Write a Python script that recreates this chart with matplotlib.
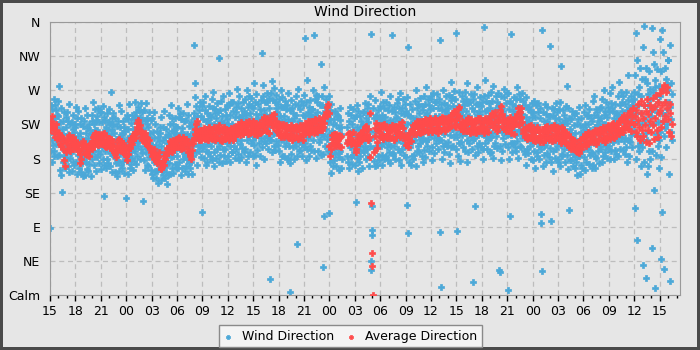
import numpy as np
import pandas as pd
import matplotlib.pyplot as plt
import matplotlib.dates as mdates

# Readings start at 15:00; one row per hour, degrees (0 = calm)
start = "2024-05-10 15:00"
wind_step = "150s"   # 24 readings per hour
avg_step = "5min"    # 12 averages per hour

wind_dir = [
    215, 88, 190, 232, 250, 205, 176, 245, 220, 198, 258, 183, 190, 233, 212, 251, 199, 226, 244, 183, 221, 238, 206, 256,
    236, 276, 185, 210, 165, 228, 197, 247, 158, 219, 136, 204, 212, 176, 230, 191, 241, 184, 205, 168, 222, 197, 235, 180,
    188, 241, 170, 213, 230, 195, 162, 252, 207, 181, 226, 199, 187, 228, 164, 210, 219, 176, 237, 194, 215, 171, 225, 203,
    222, 175, 248, 196, 160, 233, 185, 210, 243, 168, 201, 190, 226, 184, 214, 162, 201, 234, 174, 206, 191, 223, 178, 157,
    182, 230, 158, 205, 247, 176, 214, 193, 238, 166, 220, 199, 164, 207, 186, 225, 173, 200, 218, 157, 195, 212, 180, 230,
    238, 190, 254, 212, 172, 226, 201, 245, 184, 217, 163, 231, 218, 182, 236, 197, 247, 190, 211, 174, 228, 203, 241, 186,
    211, 166, 242, 195, 228, 180, 249, 204, 171, 235, 131, 218, 190, 231, 167, 213, 222, 179, 240, 197, 218, 174, 228, 206,
    245, 187, 226, 170, 212, 268, 197, 233, 162, 219, 185, 240, 226, 184, 214, 162, 201, 234, 174, 206, 191, 223, 178, 157,
    193, 229, 175, 250, 208, 164, 221, 186, 243, 200, 171, 214, 168, 211, 190, 229, 177, 204, 222, 161, 199, 216, 184, 234,
    128, 205, 238, 177, 219, 159, 232, 196, 252, 183, 210, 168, 209, 173, 227, 188, 238, 181, 202, 165, 219, 194, 232, 177,
    236, 190, 255, 214, 173, 241, 202, 229, 184, 248, 197, 220, 203, 244, 180, 226, 235, 192, 253, 210, 231, 187, 241, 219,
    124, 215, 178, 244, 196, 231, 165, 209, 253, 188, 226, 172, 234, 192, 222, 170, 209, 242, 182, 214, 199, 231, 186, 165,
    198, 160, 233, 182, 215, 155, 241, 175, 207, 164, 226, 190, 155, 198, 177, 216, 164, 191, 209, 148, 186, 203, 171, 221,
    170, 214, 152, 196, 235, 163, 187, 222, 158, 205, 178, 243, 190, 154, 208, 169, 219, 162, 183, 146, 200, 175, 213, 158,
    210, 174, 238, 192, 160, 226, 201, 250, 182, 216, 167, 233, 184, 225, 161, 207, 216, 173, 234, 191, 212, 168, 222, 200,
    221, 183, 247, 199, 168, 235, 206, 176, 240, 193, 214, 158, 232, 190, 220, 168, 207, 240, 180, 212, 197, 229, 184, 163,
    186, 231, 170, 213, 252, 179, 204, 160, 238, 195, 223, 174, 167, 210, 189, 228, 176, 203, 221, 160, 198, 215, 183, 233,
    240, 330, 280, 261, 208, 226, 188, 249, 171, 217, 236, 196, 226, 190, 244, 205, 255, 198, 219, 182, 236, 211, 249, 194,
    110, 232, 197, 255, 216, 181, 244, 206, 262, 190, 229, 172, 199, 240, 176, 222, 231, 188, 249, 206, 227, 183, 237, 215,
    235, 196, 258, 214, 178, 247, 205, 268, 188, 226, 170, 240, 245, 203, 233, 181, 220, 253, 193, 225, 210, 242, 197, 176,
    313, 201, 244, 185, 229, 256, 208, 174, 236, 219, 262, 193, 184, 227, 206, 245, 193, 220, 238, 177, 215, 232, 200, 250,
    226, 183, 250, 211, 267, 197, 238, 176, 221, 254, 204, 188, 225, 189, 243, 204, 254, 197, 218, 181, 235, 210, 248, 193,
    241, 205, 272, 222, 186, 253, 214, 235, 178, 262, 199, 230, 205, 246, 182, 228, 237, 194, 255, 212, 233, 189, 243, 221,
    215, 258, 192, 237, 176, 270, 224, 204, 248, 183, 231, 263, 252, 210, 240, 188, 227, 260, 200, 232, 217, 249, 204, 183,
    246, 198, 279, 221, 185, 254, 208, 239, 172, 265, 214, 232, 191, 234, 213, 252, 200, 227, 245, 184, 222, 239, 207, 257,
    319, 231, 195, 262, 217, 277, 203, 244, 180, 254, 226, 210, 237, 201, 255, 216, 266, 209, 230, 193, 247, 222, 260, 205,
    21, 238, 266, 205, 282, 224, 189, 257, 233, 212, 273, 196, 214, 255, 191, 237, 246, 203, 264, 221, 242, 198, 252, 230,
    224, 190, 259, 212, 236, 175, 270, 205, 248, 184, 229, 261, 248, 206, 236, 184, 223, 256, 196, 228, 213, 245, 200, 179,
    207, 251, 181, 232, 266, 196, 219, 4, 244, 174, 213, 257, 186, 229, 208, 247, 195, 222, 240, 179, 217, 234, 202, 252,
    238, 196, 262, 67, 218, 183, 250, 209, 272, 190, 230, 203, 227, 191, 245, 206, 256, 199, 220, 183, 237, 212, 250, 195,
    219, 264, 200, 339, 236, 178, 255, 212, 283, 193, 242, 225, 207, 248, 184, 230, 239, 196, 257, 214, 235, 191, 245, 223,
    245, 205, 270, 228, 343, 190, 258, 215, 237, 181, 264, 222, 254, 212, 242, 190, 229, 262, 202, 234, 219, 251, 206, 185,
    230, 305, 262, 212, 251, 186, 37, 240, 275, 210, 104, 248, 197, 240, 219, 258, 206, 233, 251, 190, 228, 245, 213, 263,
    108, 175, 232, 198, 252, 161, 216, 187, 241, 170, 209, 225, 214, 178, 232, 193, 243, 186, 207, 170, 224, 199, 237, 182,
    199, 236, 165, 220, 187, 246, 190, 231, 167, 213, 222, 179, None, None, None, None, None, None, None, None, None, None, None, None,
    None, None, 184, 221, 240, 175, 203, 229, 168, 214, 195, 248, 182, 237, 195, 225, 173, 212, 245, 185, 217, 202, 234, 189,
    213, 172, 236, 123, 197, 250, 181, 222, 164, 207, 243, 190, 175, 218, 197, 236, 184, 211, 229, 168, 206, 223, 191, 241,
    224, 188, 242, 203, 253, 196, 217, 180, 234, 209, 247, 192, 228, 184, 252, 205, 170, 239, 196, 216, 262, 344, 45, 33,
    118, 86, 79, 208, 246, 177, 233, 194, 257, 215, 170, 238, 194, 235, 171, 217, 226, 183, 244, 201, 222, 178, 232, 210,
    249, 196, 224, 268, 185, 237, 172, 213, 255, 201, 229, 180, 247, 205, 235, 183, 222, 255, 195, 227, 212, 244, 199, 178,
    206, 251, 188, 231, 174, 262, 219, 197, 243, 343, 227, 185, 187, 230, 209, 248, 196, 223, 241, 180, 218, 235, 203, 253,
    233, 192, 258, 215, 178, 247, 204, 266, 189, 229, 172, 240, 229, 193, 247, 208, 258, 201, 222, 185, 239, 214, 252, 197,
    198, 243, 182, 225, 261, 119, 82, 327, 237, 176, 209, 252, 195, 236, 172, 218, 227, 184, 245, 202, 223, 179, 233, 211,
    221, 185, 256, 204, 234, 170, 271, 213, 190, 247, 228, 196, 252, 210, 240, 188, 227, 260, 200, 232, 217, 249, 204, 183,
    244, 207, 176, 263, 225, 191, 252, 216, 182, 238, 275, 203, 197, 240, 219, 258, 206, 233, 251, 190, 228, 245, 213, 263,
    212, 258, 195, 231, 178, 266, 220, 246, 187, 207, 254, 235, 236, 200, 254, 215, 265, 208, 229, 192, 246, 221, 259, 204,
    236, 336, 83, 11, 252, 205, 180, 244, 218, 270, 197, 229, 212, 253, 189, 235, 244, 201, 262, 219, 240, 196, 250, 228,
    202, 247, 186, 227, 264, 211, 174, 238, 257, 195, 281, 219, 261, 219, 249, 197, 236, 269, 209, 241, 226, 258, 213, 192,
    345, 232, 84, 209, 249, 183, 226, 268, 200, 241, 177, 216, 202, 245, 224, 263, 211, 238, 256, 195, 233, 250, 218, 268,
    226, 190, 259, 214, 243, 176, 280, 204, 235, 188, 253, 221, 236, 200, 254, 215, 265, 208, 229, 192, 246, 221, 259, 204,
    17, 243, 207, 265, 117, 228, 185, 252, 217, 196, 274, 238, 211, 252, 188, 234, 243, 200, 261, 218, 239, 195, 249, 227,
    213, 255, 193, 231, 179, 262, 222, 353, 243, 200, 284, 209, 256, 214, 244, 192, 231, 264, 204, 236, 221, 253, 208, 187,
    247, 208, 268, 189, 232, 256, 214, 181, 240, 276, 196, 225, 201, 244, 223, 262, 210, 237, 255, 194, 232, 249, 217, 267,
    220, 33, 251, 197, 30, 237, 178, 263, 215, 246, 190, 229, 243, 207, 261, 222, 272, 215, 236, 199, 253, 228, 266, 211,
    234, 195, 7, 266, 212, 245, 180, 104, 227, 256, 344, 201, 211, 252, 188, 234, 243, 200, 261, 218, 239, 195, 249, 227,
    211, 258, 190, 236, 274, 203, 226, 181, 248, 216, 265, 197, 259, 217, 247, 195, 234, 267, 207, 239, 224, 256, 211, 190,
    225, 186, 250, 212, 235, 172, 261, 204, 228, 193, 245, 219, 187, 230, 209, 248, 196, 223, 241, 180, 218, 235, 203, 253,
    200, 241, 178, 224, 256, 190, 215, 168, 235, 207, 250, 184, 224, 188, 242, 203, 253, 196, 217, 180, 234, 209, 247, 192,
    107, 95, 32, 350, 218, 170, 242, 196, 229, 185, 252, 210, 198, 239, 175, 221, 230, 187, 248, 205, 226, 182, 236, 214,
    194, 236, 328, 98, 212, 176, 247, 203, 224, 163, 238, 190, 245, 203, 233, 181, 220, 253, 193, 225, 210, 242, 197, 176,
    219, 180, 245, 206, 232, 170, 254, 198, 226, 302, 213, 186, 183, 226, 205, 244, 192, 219, 237, 176, 214, 231, 199, 249,
    185, 227, 276, 166, 211, 246, 192, 112, 234, 178, 219, 203, 214, 178, 232, 193, 243, 186, 207, 170, 224, 199, 237, 182,
    168, 214, 190, 240, 175, 226, 158, 203, 232, 184, 248, 197, 183, 224, 160, 206, 215, 172, 233, 190, 211, 167, 221, 199,
    206, 242, 182, 225, 165, 251, 199, 218, 176, 236, 192, 212, 237, 195, 225, 173, 212, 245, 185, 217, 202, 234, 189, 168,
    229, 187, 256, 210, 172, 238, 201, 263, 184, 222, 168, 245, 181, 224, 203, 242, 190, 217, 235, 174, 212, 229, 197, 247,
    214, 248, 192, 233, 176, 259, 207, 226, 183, 270, 200, 238, 225, 189, 243, 204, 254, 197, 218, 181, 235, 210, 248, 193,
    196, 241, 267, 210, 180, 253, 221, 190, 246, 215, 274, 203, 202, 243, 179, 225, 234, 191, 252, 209, 230, 186, 240, 218,
    238, 203, 262, 184, 229, 281, 213, 250, 192, 235, 268, 207, 255, 213, 243, 191, 230, 263, 203, 235, 220, 252, 207, 186,
    222, 268, 195, 244, 176, 257, 230, 290, 205, 248, 183, 236, 202, 245, 224, 263, 211, 238, 256, 195, 233, 250, 218, 268,
    258, 115, 290, 212, 345, 240, 180, 310, 228, 72, 265, 196, 250, 190, 275, 210, 300, 200, 240, 170, 262, 225, 285, 195,
    327, 205, 40, 250, 175, 355, 232, 285, 22, 300, 214, 160, 205, 280, 170, 250, 265, 190, 295, 225, 258, 180, 272, 236,
    243, 352, 190, 62, 268, 320, 226, 138, 305, 248, 9, 274, 283, 212, 262, 185, 242, 298, 196, 255, 228, 276, 205, 168,
    215, 338, 262, 47, 295, 182, 350, 240, 110, 320, 230, 35, 210, 272, 238, 300, 220, 255, 285, 195, 245, 278, 225, 310,
    270, 310, 160, 255, 18, 330, 248, 215, 280, 232, 265, 205,
]

avg_dir = [
    218, 230, 222, 236, 226, 214, 221, 208, 218, 225, 206, 214,
    207, 214, 199, 210, 196, 208, 203, 192, 178, 170, 188, 201,
    206, 194, 203, 211, 197, 190, 205, 199, 209, 193, 201, 196,
    204, 195, 201, 190, 199, 193, 186, 174, 180, 192, 198, 203,
    196, 186, 199, 188, 194, 185, 197, 191, 184, 196, 201, 192,
    203, 209, 196, 211, 214, 202, 206, 212, 198, 208, 213, 201,
    208, 199, 212, 202, 214, 203, 197, 210, 195, 204, 199, 207,
    203, 194, 206, 197, 191, 202, 195, 189, 186, 182, 188, 198,
    204, 193, 206, 197, 190, 203, 195, 189, 200, 192, 186, 195,
    184, 178, 186, 191, 198, 194, 203, 207, 199, 210, 204, 213,
    207, 215, 212, 222, 227, 231, 220, 216, 224, 208, 215, 205,
    212, 203, 214, 200, 209, 198, 207, 196, 205, 197, 193, 188,
    191, 183, 187, 192, 179, 186, 177, 184, 174, 182, 188, 177,
    174, 168, 166, 173, 177, 171, 184, 179, 188, 185, 194, 187,
    196, 190, 203, 194, 200, 189, 198, 205, 193, 201, 206, 195,
    203, 207, 195, 208, 199, 192, 205, 197, 209, 194, 202, 206,
    200, 206, 193, 202, 189, 198, 186, 183, 180, 191, 201, 205,
    207, 213, 219, 225, 229, 216, 211, 205, 217, 209, 204, 214,
    217, 208, 220, 206, 214, 207, 219, 211, 204, 216, 222, 210,
    211, 219, 206, 215, 222, 208, 204, 214, 220, 207, 217, 224,
    215, 205, 218, 209, 203, 216, 221, 210, 206, 219, 208, 214,
    208, 217, 204, 214, 220, 208, 218, 205, 215, 222, 210, 219,
    219, 212, 226, 215, 223, 211, 221, 228, 217, 213, 225, 216,
    223, 215, 228, 218, 213, 226, 230, 219, 214, 225, 216, 229,
    221, 212, 225, 216, 227, 219, 211, 222, 226, 214, 224, 215,
    224, 231, 227, 235, 222, 217, 228, 233, 216, 225, 214, 229,
    228, 234, 226, 238, 221, 233, 239, 225, 218, 230, 216, 224,
    221, 211, 225, 214, 209, 220, 226, 213, 208, 222, 212, 224,
    218, 209, 222, 207, 217, 224, 212, 205, 219, 210, 221, 208,
    216, 223, 208, 219, 206, 217, 224, 210, 221, 213, 205, 218,
    220, 227, 213, 226, 217, 230, 221, 212, 226, 216, 229, 219,
    222, 229, 214, 225, 232, 219, 215, 230, 221, 234, 224, 217,
    226, 218, 231, 222, 235, 227, 238, 242, 236, 248, 252, 240,
    196, 184, 192, 206, 211, 200, 213, 198, 209, 197, 212, 203,
    205, 211, 197, 208, 195, 210, None, None, None, None, None, None,
    None, 201, 212, 204, 214, 206, 199, 213, 203, 215, 205, 200,
    198, 192, 188, 201, 207, 211, 200, 213, 204, 214, 206, 216,
    217, 207, 221, 210, 223, 212, 205, 219, 209, 240, 182, 121,
    55, 38, 0, 188, 210, 220, 227, 202, 194, 216, 224, 208,
    219, 209, 224, 212, 206, 221, 226, 210, 222, 213, 207, 217,
    215, 222, 207, 218, 224, 209, 220, 205, 216, 223, 208, 219,
    221, 212, 226, 215, 209, 223, 213, 228, 220, 211, 208, 204,
    208, 198, 211, 201, 195, 207, 214, 203, 216, 219, 224, 212,
    220, 226, 213, 223, 229, 215, 221, 227, 214, 230, 222, 215,
    224, 230, 216, 227, 232, 218, 225, 231, 215, 226, 233, 219,
    225, 215, 230, 219, 228, 234, 217, 226, 231, 220, 214, 228,
    226, 232, 218, 229, 235, 220, 227, 233, 216, 228, 234, 221,
    228, 234, 220, 231, 237, 224, 233, 240, 243, 229, 223, 221,
    231, 238, 245, 248, 236, 226, 222, 219, 230, 221, 216, 227,
    224, 231, 216, 227, 233, 218, 229, 214, 225, 232, 220, 215,
    227, 218, 231, 222, 214, 229, 234, 220, 216, 228, 233, 221,
    219, 228, 223, 214, 229, 234, 218, 230, 222, 215, 228, 236,
    229, 235, 240, 226, 221, 236, 242, 228, 220, 216, 231, 223,
    231, 238, 244, 249, 239, 228, 222, 233, 219, 230, 216, 226,
    221, 230, 216, 228, 235, 222, 214, 231, 223, 213, 227, 234,
    226, 233, 239, 246, 232, 224, 241, 247, 235, 228, 218, 214,
    219, 208, 222, 212, 206, 220, 209, 223, 207, 216, 224, 211,
    216, 205, 219, 210, 203, 217, 222, 207, 218, 209, 202, 215,
    209, 219, 211, 202, 216, 221, 205, 217, 208, 223, 214, 204,
    217, 207, 222, 210, 203, 219, 224, 212, 205, 218, 208, 221,
    215, 205, 220, 208, 201, 214, 221, 206, 217, 209, 200, 213,
    210, 200, 213, 199, 195, 208, 201, 193, 206, 198, 192, 205,
    202, 193, 190, 188, 196, 187, 198, 204, 193, 206, 197, 207,
    208, 199, 213, 203, 196, 210, 215, 200, 211, 202, 214, 205,
    209, 215, 202, 212, 218, 205, 199, 214, 204, 217, 206, 219,
    212, 219, 205, 215, 222, 208, 202, 217, 209, 221, 207, 224,
    214, 221, 206, 218, 225, 210, 227, 216, 207, 222, 211, 226,
    218, 226, 212, 229, 217, 232, 220, 234, 215, 228, 238, 221,
    222, 230, 235, 219, 240, 226, 243, 228, 216, 236, 246, 225,
    226, 236, 215, 244, 210, 231, 252, 222, 205, 240, 256, 218,
    234, 210, 250, 224, 202, 243, 258, 217, 239, 200, 251, 229,
    215, 245, 260, 224, 206, 249, 233, 264, 217, 254, 209, 240,
    244, 266, 222, 272, 250, 230, 277, 255, 236, 268, 275, 246,
    232, 215, 240, 252, 210, 226,
]

compass_ticks = [0, 45, 90, 135, 180, 225, 270, 315, 360]
compass_labels = ["Calm", "NE", "E", "SE", "S", "SW", "W", "NW", "N"]

wind_dir = np.array(wind_dir, dtype=float)
avg_dir = np.array(avg_dir, dtype=float)
wind_times = pd.date_range(start, periods=len(wind_dir), freq=wind_step)
avg_times = pd.date_range(start, periods=len(avg_dir), freq=avg_step)

bg = "#e6e6e6"
blue = "#4ba8d8"
red = "#ff4b4b"

fig = plt.figure(figsize=(7, 3.5), dpi=100, facecolor=bg)
fig.patch.set_edgecolor("#4a4a4a")
fig.patch.set_linewidth(4)
ax = fig.add_axes([0.0714, 0.157, 0.9, 0.78], facecolor=bg)

ax.scatter(wind_times, wind_dir, s=22, marker="P", color=blue, edgecolors=blue,
           linewidths=0.5, label="Wind Direction", zorder=2)
ax.scatter(avg_times, avg_dir, s=22, marker="P", color=red, edgecolors=red,
           linewidths=0.5, label="Average Direction", zorder=3)

ax.set_ylim(0, 360)
ax.set_yticks(compass_ticks)
ax.set_yticklabels(compass_labels)
t0 = pd.Timestamp(start)
ax.set_xlim(t0, t0 + pd.Timedelta(hours=74.4))
ax.xaxis.set_major_locator(mdates.HourLocator(byhour=range(0, 24, 3)))
ax.xaxis.set_major_formatter(mdates.DateFormatter("%H"))
ax.xaxis.set_minor_locator(mdates.HourLocator())

ax.tick_params(axis="y", length=0, pad=7, labelsize=9)
ax.tick_params(axis="x", which="major", length=4, width=1, pad=3, labelsize=9)
ax.tick_params(axis="x", which="minor", length=2.5, width=1)

ax.grid(True, color="#bdbdbd", linestyle=(0, (4, 3)), linewidth=0.9)
ax.set_axisbelow(True)
for sp in ax.spines.values():
    sp.set_color("#999999")

ax.set_title("Wind Direction", fontsize=10, pad=4)

fig.legend(loc="lower center", bbox_to_anchor=(0.5, 0.008), ncol=2,
           fontsize=9, frameon=True, fancybox=False, edgecolor="#8a8a8a",
           facecolor="#f4f4f4", framealpha=1, markerscale=0.6,
           borderaxespad=0, handlelength=0.8, handletextpad=0.7,
           columnspacing=1.0, borderpad=0.35)

fig.savefig("out.png", dpi=100, facecolor=bg, edgecolor=fig.patch.get_edgecolor())
